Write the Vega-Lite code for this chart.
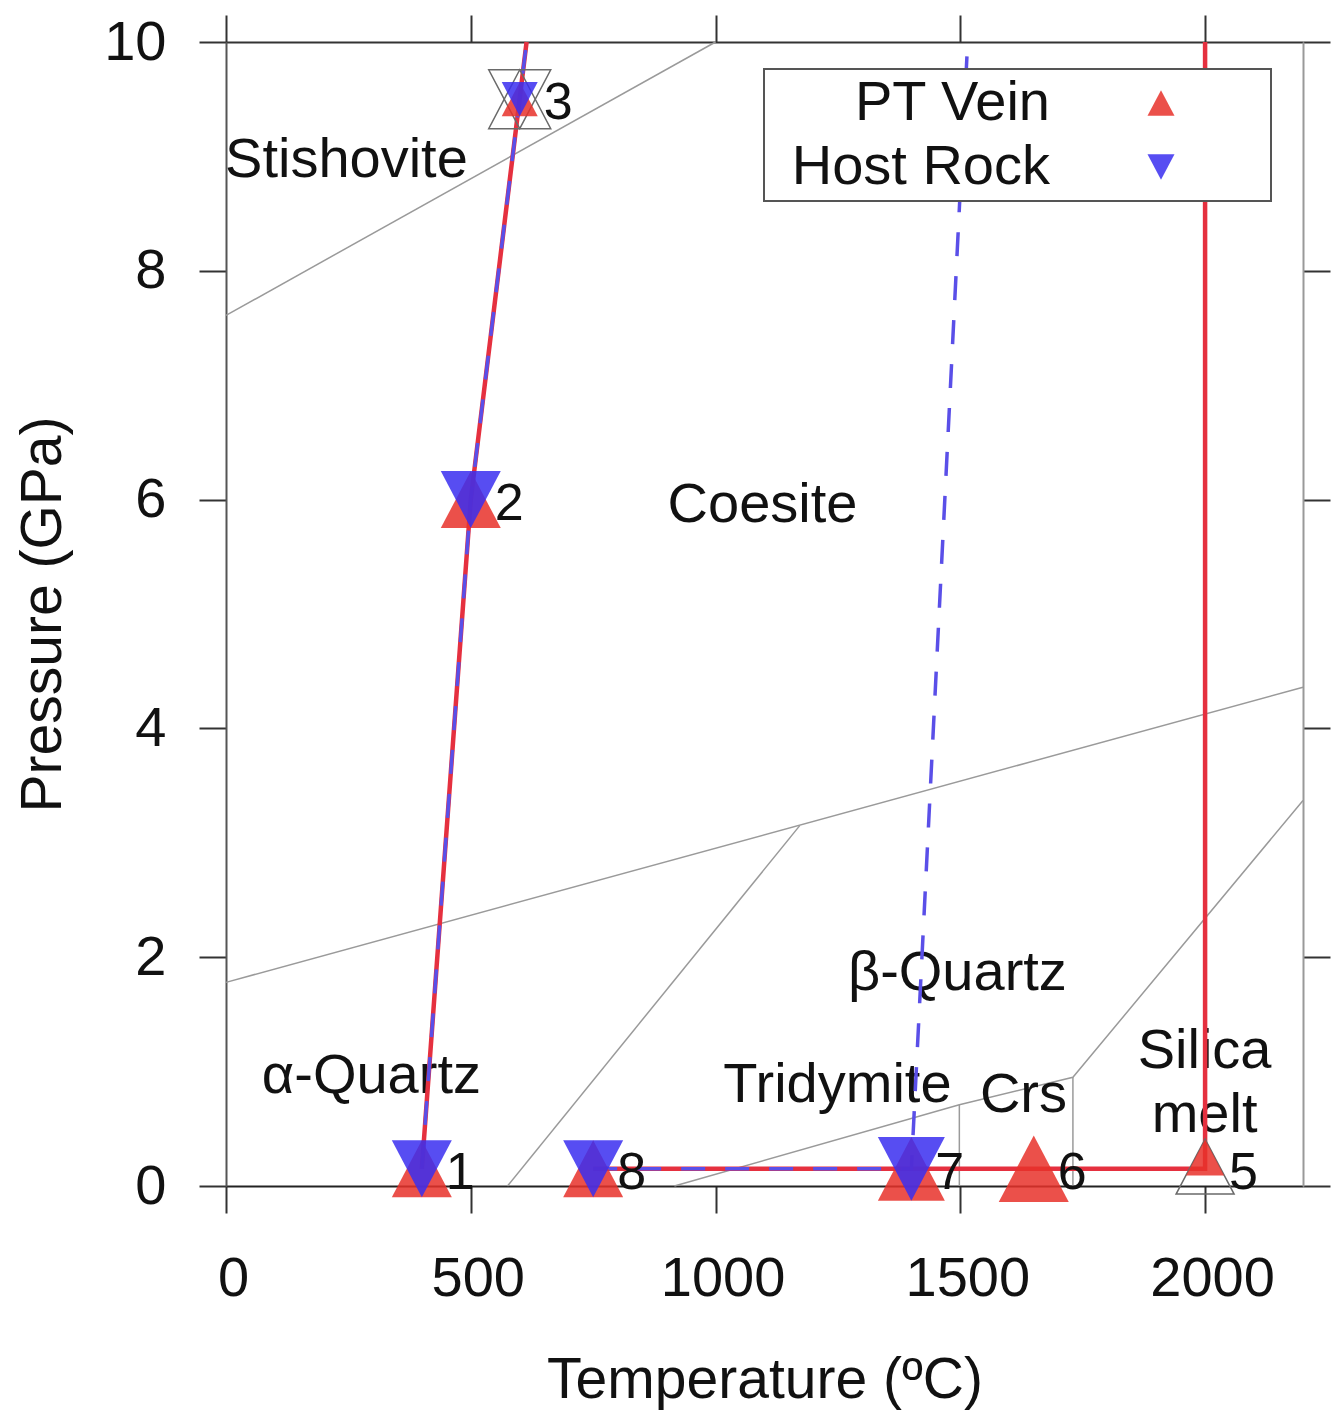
{
  "$schema": "https://vega.github.io/schema/vega-lite/v6.json",
  "width": 1077,
  "height": 1144,
  "autosize": "none",
  "padding": {"left": 226, "top": 42, "right": 28, "bottom": 230},
  "background": "white",
  "config": {
    "font": "Liberation Sans",
    "view": {"stroke": null},
    "axis": {
      "grid": false,
      "domainColor": "#444",
      "domainWidth": 2,
      "tickColor": "#333",
      "tickWidth": 2,
      "tickSize": 27,
      "labelFontSize": 56,
      "labelColor": "#111",
      "titleFontSize": 57,
      "titleFontWeight": "normal",
      "titleColor": "#111"
    },
    "legend": {"strokeWidth": 2}
  },
  "datasets": {
    "phase": [
      {"id": "A", "o": 1, "T": 0, "P": 7.61},
      {"id": "A", "o": 2, "T": 1000, "P": 10},
      {"id": "B", "o": 1, "T": 0, "P": 1.78},
      {"id": "B", "o": 2, "T": 2200, "P": 4.36},
      {"id": "C", "o": 1, "T": 575, "P": 0},
      {"id": "C", "o": 2, "T": 1172, "P": 3.15},
      {"id": "D", "o": 1, "T": 916, "P": 0},
      {"id": "D", "o": 2, "T": 1498, "P": 0.71},
      {"id": "D", "o": 3, "T": 1730, "P": 0.95},
      {"id": "D", "o": 4, "T": 2200, "P": 3.37},
      {"id": "E", "o": 1, "T": 1498, "P": 0},
      {"id": "E", "o": 2, "T": 1498, "P": 0.71},
      {"id": "F", "o": 1, "T": 1730, "P": 0},
      {"id": "F", "o": 2, "T": 1730, "P": 0.95}
    ],
    "regions": [
      {"name": "Stishovite", "T": 246, "P": 8.82},
      {"name": "Coesite", "T": 1096, "P": 5.8},
      {"name": "β-Quartz", "T": 1494, "P": 1.71},
      {"name": "α-Quartz", "T": 297, "P": 0.81},
      {"name": "Tridymite", "T": 1249, "P": 0.73},
      {"name": "Crs", "T": 1629, "P": 0.65},
      {"name": "Silica", "T": 1999, "P": 1.03},
      {"name": "melt", "T": 1999, "P": 0.47}
    ],
    "paths": [
      {"series": "PT Vein", "seg": "a", "o": 1, "T": 400, "P": 0.15},
      {"series": "PT Vein", "seg": "a", "o": 2, "T": 500, "P": 6.0},
      {"series": "PT Vein", "seg": "a", "o": 3, "T": 614, "P": 10},
      {"series": "PT Vein", "seg": "b", "o": 1, "T": 750, "P": 0.15},
      {"series": "PT Vein", "seg": "b", "o": 2, "T": 1400, "P": 0.15},
      {"series": "PT Vein", "seg": "b", "o": 3, "T": 1650, "P": 0.15},
      {"series": "PT Vein", "seg": "b", "o": 4, "T": 2000, "P": 0.15},
      {"series": "PT Vein", "seg": "b", "o": 5, "T": 2000, "P": 10},
      {"series": "Host Rock", "seg": "a", "o": 1, "T": 400, "P": 0.15},
      {"series": "Host Rock", "seg": "a", "o": 2, "T": 500, "P": 6.0},
      {"series": "Host Rock", "seg": "a", "o": 3, "T": 614, "P": 10},
      {"series": "Host Rock", "seg": "b", "o": 1, "T": 750, "P": 0.15},
      {"series": "Host Rock", "seg": "b", "o": 2, "T": 1400, "P": 0.15},
      {"series": "Host Rock", "seg": "b", "o": 3, "T": 1515, "P": 10}
    ],
    "pts": [
      {"series": "PT Vein", "n": "1", "T": 400, "P": 0.15, "mag": 6.0},
      {"series": "PT Vein", "n": "2", "T": 500, "P": 6.0, "mag": 6.0},
      {"series": "PT Vein", "n": "3", "T": 600, "P": 9.5, "mag": 3.6},
      {"series": "PT Vein", "n": "8", "T": 750, "P": 0.15, "mag": 6.0},
      {"series": "PT Vein", "n": "7", "T": 1400, "P": 0.15, "mag": 6.7},
      {"series": "PT Vein", "n": "6", "T": 1650, "P": 0.15, "mag": 7.0},
      {"series": "PT Vein", "n": "5", "T": 2000, "P": 0.25, "mag": 3.8},
      {"series": "Host Rock", "n": "1", "T": 400, "P": 0.15, "mag": 6.0},
      {"series": "Host Rock", "n": "2", "T": 500, "P": 6.0, "mag": 6.0},
      {"series": "Host Rock", "n": "3", "T": 600, "P": 9.5, "mag": 3.6},
      {"series": "Host Rock", "n": "8", "T": 750, "P": 0.15, "mag": 6.0},
      {"series": "Host Rock", "n": "7", "T": 1400, "P": 0.15, "mag": 6.7}
    ],
    "hollow": [
      {"series": "PT Vein", "T": 600, "P": 9.5, "mag": 6.2},
      {"series": "Host Rock", "T": 600, "P": 9.5, "mag": 6.2},
      {"series": "PT Vein", "T": 2000, "P": 0.17, "mag": 5.8}
    ],
    "nums": [
      {"n": "1", "T": 400, "P": 0.15},
      {"n": "2", "T": 500, "P": 6.0},
      {"n": "3", "T": 600, "P": 9.5},
      {"n": "8", "T": 750, "P": 0.15},
      {"n": "7", "T": 1400, "P": 0.15},
      {"n": "6", "T": 1650, "P": 0.15},
      {"n": "5", "T": 2000, "P": 0.15}
    ]
  },
  "resolve": {"axis": {"x": "independent", "y": "independent"}},
  "layer": [
    {
      "data": {"name": "phase"},
      "mark": {"type": "line", "color": "#9a9a9a", "strokeWidth": 1.5},
      "encoding": {
        "x": {"field": "T", "type": "quantitative", "scale": {"domain": [0, 2200], "nice": false, "zero": false},
          "axis": {"orient": "bottom", "values": [0, 500, 1000, 1500, 2000], "format": "d", "title": "Temperature (ºC)", "labelPadding": 38, "labelOffset": 7, "labelFlush": false, "titleY": 211, "titleBaseline": "alphabetic", "domainColor": "#222"}},
        "y": {"field": "P", "type": "quantitative", "scale": {"domain": [0, 10], "nice": false, "zero": false},
          "axis": {"orient": "left", "values": [0, 2, 4, 6, 8, 10], "title": "Pressure (GPa)", "labelPadding": 33, "labelFlush": false, "titleX": -166, "titleBaseline": "alphabetic", "titleAngle": 270, "domainColor": "#555"}},
        "detail": {"field": "id"},
        "order": {"field": "o"}
      }
    },
    {
      "data": {"name": "regions"},
      "mark": {"type": "text", "fontSize": 56, "align": "center", "baseline": "alphabetic", "color": "#111"},
      "encoding": {
        "x": {"field": "T", "type": "quantitative", "scale": {"domain": [0, 2200]}, "axis": null},
        "y": {"field": "P", "type": "quantitative", "scale": {"domain": [0, 10]}, "axis": null},
        "text": {"field": "name"}
      }
    },
    {
      "data": {"name": "paths"},
      "transform": [{"filter": "datum.series === 'PT Vein'"}],
      "mark": {"type": "line", "color": "#e5303f", "strokeWidth": 4.5},
      "encoding": {
        "x": {"field": "T", "type": "quantitative", "scale": {"domain": [0, 2200]}, "axis": null},
        "y": {"field": "P", "type": "quantitative", "scale": {"domain": [0, 10]}, "axis": null},
        "detail": {"field": "seg"},
        "order": {"field": "o"}
      }
    },
    {
      "data": {"name": "paths"},
      "transform": [{"filter": "datum.series === 'Host Rock'"}],
      "mark": {"type": "line", "color": "#5a4fe8", "strokeWidth": 3.5, "strokeDash": [24, 20]},
      "encoding": {
        "x": {"field": "T", "type": "quantitative", "scale": {"domain": [0, 2200]}, "axis": null},
        "y": {"field": "P", "type": "quantitative", "scale": {"domain": [0, 10]}, "axis": null},
        "detail": {"field": "seg"},
        "order": {"field": "o"}
      }
    },
    {
      "data": {"name": "hollow"},
      "transform": [{"filter": "datum.series === 'PT Vein'"}],
      "mark": {"type": "point", "filled": false, "stroke": "#6a6a6a", "strokeWidth": 1.5, "opacity": 1, "shape": "M0,-0.95L1,0.95L-1,0.95Z"},
      "encoding": {
        "x": {"field": "T", "type": "quantitative", "scale": {"domain": [0, 2200]}, "axis": null},
        "y": {"field": "P", "type": "quantitative", "scale": {"domain": [0, 10]}, "axis": null},
        "size": {"field": "mag", "type": "quantitative", "scale": {"type": "pow", "exponent": 2, "domain": [0, 10], "range": [0, 10000]}, "legend": null}
      }
    },
    {
      "data": {"name": "hollow"},
      "transform": [{"filter": "datum.series === 'Host Rock'"}],
      "mark": {"type": "point", "filled": false, "stroke": "#6a6a6a", "strokeWidth": 1.5, "opacity": 1, "shape": "M0,0.95L1,-0.95L-1,-0.95Z"},
      "encoding": {
        "x": {"field": "T", "type": "quantitative", "scale": {"domain": [0, 2200]}, "axis": null},
        "y": {"field": "P", "type": "quantitative", "scale": {"domain": [0, 10]}, "axis": null},
        "size": {"field": "mag", "type": "quantitative", "scale": {"type": "pow", "exponent": 2, "domain": [0, 10], "range": [0, 10000]}, "legend": null}
      }
    },
    {
      "data": {"name": "pts"},
      "mark": {"type": "point", "filled": true, "opacity": 0.85, "strokeWidth": 0},
      "encoding": {
        "x": {"field": "T", "type": "quantitative", "scale": {"domain": [0, 2200]}, "axis": null},
        "y": {"field": "P", "type": "quantitative", "scale": {"domain": [0, 10]}, "axis": null},
        "size": {"field": "mag", "type": "quantitative", "scale": {"type": "pow", "exponent": 2, "domain": [0, 10], "range": [0, 10000]}, "legend": null},
        "color": {"field": "series", "type": "nominal",
          "scale": {"domain": ["PT Vein", "Host Rock"], "range": ["#e8312a", "#3a2ef0"]},
          "legend": {"title": null, "orient": "none", "legendX": 538, "legendY": 27, "labelFontSize": 56, "labelAlign": "right", "labelOffset": -139, "symbolOffset": 363, "symbolSize": 729, "symbolStrokeWidth": 0, "padding": 6, "rowPadding": 8, "strokeColor": "#555", "fillColor": "white", "labelColor": "#111", "labelLimit": 600}},
        "shape": {"field": "series", "type": "nominal",
          "scale": {"domain": ["PT Vein", "Host Rock"], "range": ["M0,-0.95L1,0.95L-1,0.95ZM7.7,0", "M0,0.95L1,-0.95L-1,-0.95ZM7.7,0"]},
          "legend": {"title": null, "orient": "none", "legendX": 538, "legendY": 27, "labelFontSize": 56, "labelAlign": "right", "labelOffset": -139, "symbolOffset": 363, "symbolSize": 729, "symbolStrokeWidth": 0, "padding": 6, "rowPadding": 8, "strokeColor": "#555", "fillColor": "white", "labelColor": "#111", "labelLimit": 600}}
      }
    },
    {
      "data": {"name": "nums"},
      "mark": {"type": "text", "fontSize": 52, "align": "left", "baseline": "middle", "dx": 24, "dy": 4, "color": "#111"},
      "encoding": {
        "x": {"field": "T", "type": "quantitative", "scale": {"domain": [0, 2200]},
          "axis": {"orient": "top", "values": [0, 500, 1000, 1500, 2000], "labels": false, "title": null, "domainColor": "#333"}},
        "y": {"field": "P", "type": "quantitative", "scale": {"domain": [0, 10]},
          "axis": {"orient": "right", "values": [0, 2, 4, 6, 8, 10], "labels": false, "title": null, "domainColor": "#999"}},
        "text": {"field": "n"}
      }
    }
  ]
}
